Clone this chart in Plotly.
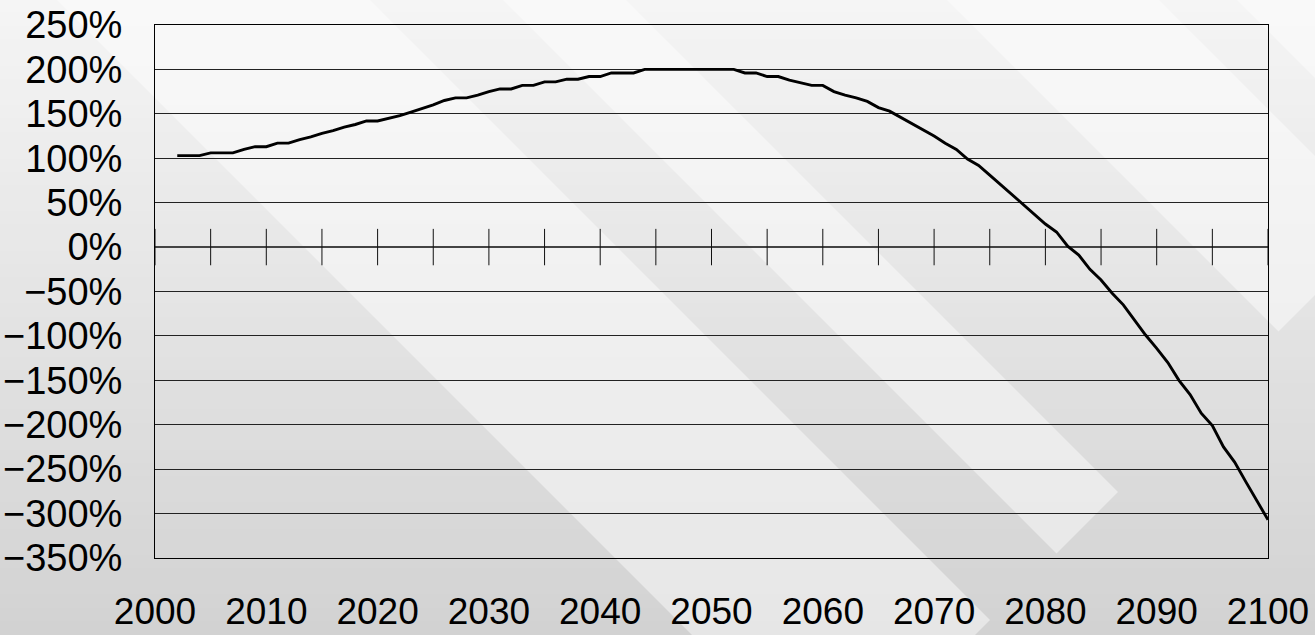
import plotly.graph_objects as go

# ---------------- data ----------------
years = list(range(2002, 2101))
values = [
    103, 103, 103, 106, 106, 106, 110, 113, 113,            # 2002-2010
    117, 117, 121, 124, 128, 131, 135, 138, 142, 142,       # 2011-2020
    145, 148, 152, 156, 160, 165, 168, 168, 171, 175,       # 2021-2030
    178, 178, 182, 182, 186, 186, 189, 189, 192, 192,       # 2031-2040
    196, 196, 196, 200, 200, 200, 200, 200, 200, 200,       # 2041-2050
    200, 200, 196, 196, 192, 192, 188, 185, 182, 182,       # 2051-2060
    175, 171, 168, 164, 157, 153, 146, 139, 132, 125,       # 2061-2070
    117, 110, 99, 92, 81, 70, 59, 48, 38, 26,               # 2071-2080
    17, 1, -9, -25, -37, -52, -65, -82, -99, -114,          # 2081-2090
    -130, -150, -166, -187, -201, -225, -242, -264, -285, -307,  # 2091-2100
]
x_tick_labels = [str(y) for y in range(2000, 2101, 10)]
x_tick_vals = list(range(2000, 2101, 10))
zero_tick_years = list(range(2000, 2101, 5))
y_tick_vals = list(range(-350, 251, 50))
y_tick_labels = [(f"−{abs(v)}%" if v < 0 else f"{v}%") for v in y_tick_vals]

# ---------------- layout geometry (pixels) ----------------
W, H = 1315, 635
L, R, T, B = 155, 1268, 25, 558
PW, PH = R - L, B - T


def px(x):
    return (x - L) / PW


def py(y):
    return (B - y) / PH


shapes = []
# vertical gradient background
n = 48
top_c, bot_c = 245, 210
for i in range(n):
    y0 = i * H / n
    y1 = (i + 1) * H / n + 0.8
    c = round(top_c + (bot_c - top_c) * (i + 0.5) / n)
    shapes.append(dict(type="rect", xref="paper", yref="paper", layer="below",
                       x0=px(-5), x1=px(W + 5), y0=py(y0 - 0.5), y1=py(y1),
                       fillcolor=f"rgb({c},{c},{c})", line=dict(width=0)))

# light diagonal stripes (x - y in [c1, c2], clipped at x + y = K)
K = 1610
for c1, c2, a in [(57, 370, 0.45), (503, 626, 0.45), (947, 1159, 0.45), (1237, 1600, 0.45)]:
    pts = [(c1 - 20, -20), (c2 - 20, -20), ((K + c2) / 2, (K - c2) / 2), ((K + c1) / 2, (K - c1) / 2)]
    path = "M " + " L ".join(f"{px(x):.5f},{py(y):.5f}" for x, y in pts) + " Z"
    shapes.append(dict(type="path", xref="paper", yref="paper", layer="below",
                       path=path, fillcolor=f"rgba(255,255,255,{a})", line=dict(width=0)))

font_family = "Liberation Sans, Arial, sans-serif"
FS = 38

fig = go.Figure()
fig.add_trace(go.Scatter(
    x=zero_tick_years, y=[0] * len(zero_tick_years), mode="markers",
    marker=dict(symbol="line-ns", size=26, color="#111", line=dict(width=1, color="#111")),
    hoverinfo="skip", showlegend=False,
))
fig.add_trace(go.Scatter(
    x=years, y=values, mode="lines",
    line=dict(color="#000000", width=2.9),
    showlegend=False,
))

fig.update_layout(
    width=W, height=H,
    margin=dict(l=L, r=W - R, t=T, b=H - B, pad=0),
    paper_bgcolor="rgb(228,228,228)",
    plot_bgcolor="rgba(0,0,0,0)",
    shapes=shapes,
    font=dict(family=font_family, color="#000000", size=FS),
    xaxis=dict(
        range=[2000, 2100], tickvals=x_tick_vals, ticktext=x_tick_labels,
        showgrid=False, zeroline=False, automargin=False,
        showline=True, mirror=True, linecolor="#000000", linewidth=1,
        ticks="", ticklabelstandoff=21, ticklabeloverflow="allow",
        tickfont=dict(family=font_family, size=FS - 1, color="#000000"),
    ),
    yaxis=dict(
        range=[-350, 250], tickvals=y_tick_vals, ticktext=y_tick_labels,
        showgrid=True, gridcolor="#222222", gridwidth=1,
        zeroline=True, zerolinecolor="#444444", zerolinewidth=1.5,
        showline=True, mirror=True, linecolor="#000000", linewidth=1,
        automargin=False,
        ticks="", ticklabelstandoff=24, ticklabeloverflow="allow",
        tickfont=dict(family=font_family, size=FS, color="#000000"),
    ),
)

fig.write_html("out.html")
